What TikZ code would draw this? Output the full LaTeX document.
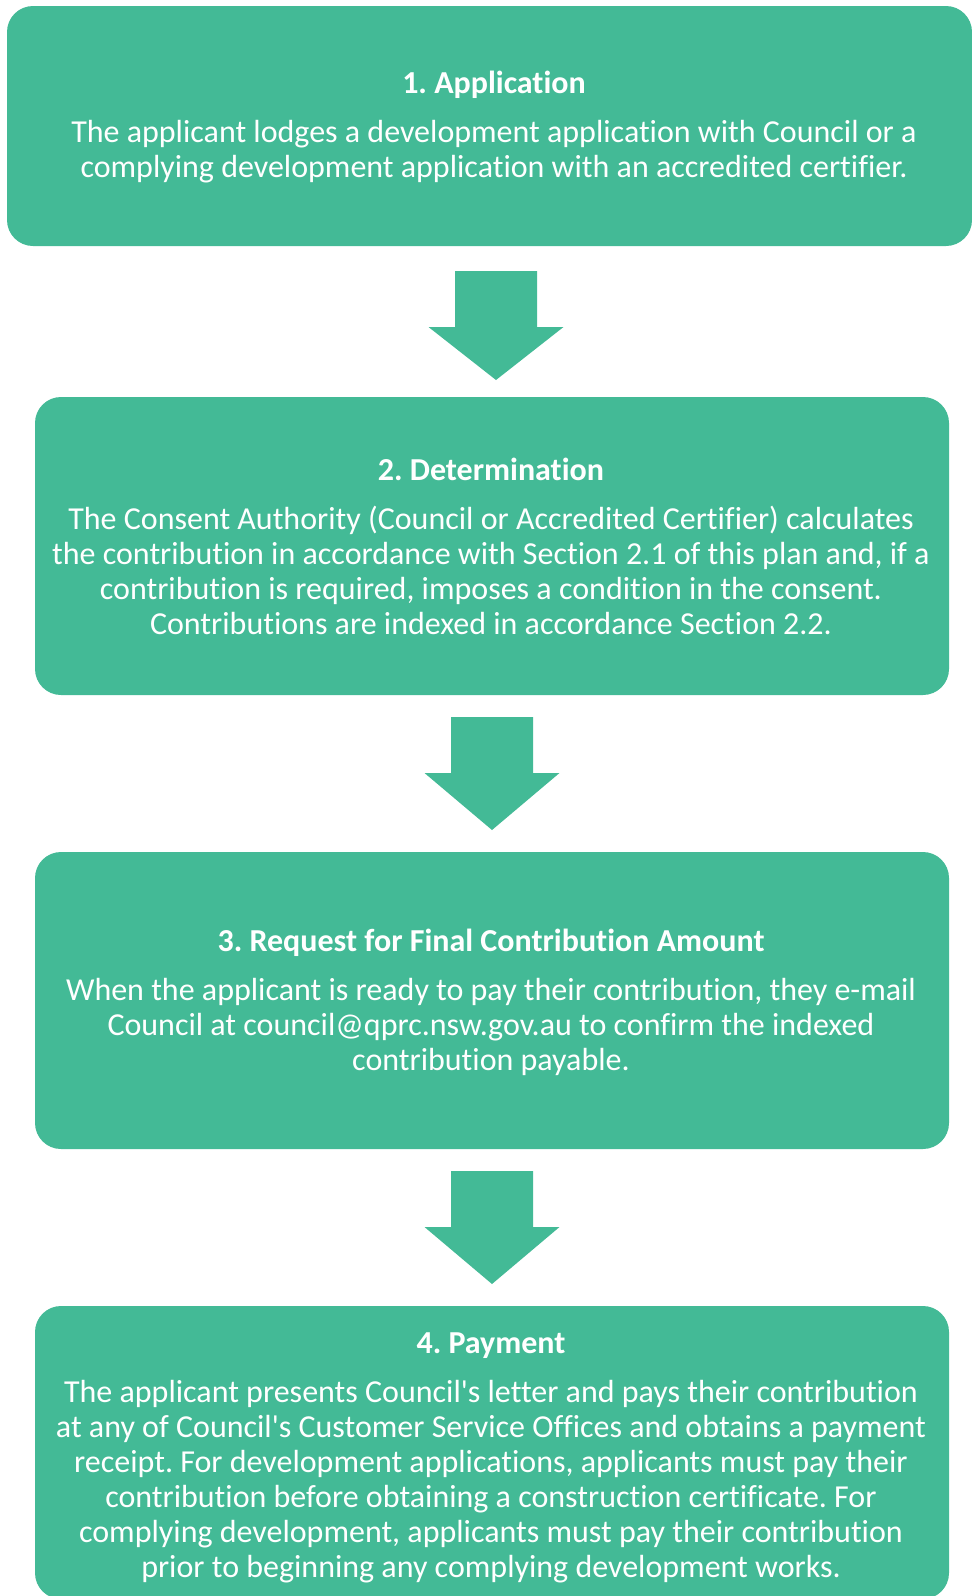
\documentclass[tikz,border=0pt]{standalone}
\usepackage{fontspec}
\setmainfont{Carlito}[Ligatures={NoCommon,TeXOff}]
\usetikzlibrary{calc}
\definecolor{flowgreen}{RGB}{67,186,150}
\tikzset{
  box/.style={fill=flowgreen, draw=none, rounded corners=26pt, inner sep=0pt, outer sep=0pt, rectangle},
  txt/.style={text=white, inner sep=0pt, anchor=base, font=\fontsize{32}{35}\selectfont},
  flow/.style={fill=flowgreen, draw=none}
}
\newcommand\boxtext[2]{\begin{tabular}[t]{@{}c@{}}\textbf{#1}\\[14pt]#2\end{tabular}}
\frenchspacing
\begin{document}
\begin{tikzpicture}[x=1pt,y=-1pt]
\useasboundingbox (0,0) rectangle (972,1596);
\clip (0,0) rectangle (972,1596);
\node[box, minimum width=965pt, minimum height=240pt] (b1) at (489.5,126) {};
\node[box, minimum width=914pt, minimum height=298pt] (b2) at (492,546) {};
\node[box, minimum width=914pt, minimum height=297pt] (b3) at (492,1000.5) {};
\node[box, minimum width=914pt, minimum height=293pt] (b4) at (492,1452.5) {};

\node[txt] (t1) at (494,93.5) {\boxtext{1. Application}{The applicant lodges a development application with Council or a\\complying development application with an accredited certifier.}};
\node[txt] (t2) at (491,480) {\boxtext{2. Determination}{The Consent Authority (Council or Accredited Certifier) calculates\\the contribution in accordance with Section 2.1 of this plan and, if a\\contribution is required, imposes a condition in the consent.\\Contributions are indexed in accordance Section 2.2.}};
\node[txt] (t3) at (491,951) {\boxtext{3. Request for Final Contribution Amount}{When the applicant is ready to pay their contribution, they e-mail\\Council at council@qprc.nsw.gov.au to confirm the indexed\\contribution payable.}};
\node[txt] (t4) at (491,1353) {\boxtext{4. Payment}{The applicant presents Council's letter and pays their contribution\\at any of Council's Customer Service Offices and obtains a payment\\receipt. For development applications, applicants must pay their\\contribution before obtaining a construction certificate. For\\complying development, applicants must pay their contribution\\prior to beginning any complying development works.}};

% block arrows between boxes
\coordinate (a1s) at ($(b1.south)+(6.5,25)$);
\coordinate (a1e) at ($(b2.north)+(4,-17)$);
\coordinate (a2s) at ($(b2.south)+(0,22)$);
\coordinate (a2e) at ($(b3.north)+(0,-22)$);
\coordinate (a3s) at ($(b3.south)+(0,22)$);
\coordinate (a3e) at ($(b4.north)+(0,-22)$);
\foreach \s/\e in {a1s/a1e,a2s/a2e,a3s/a3e}{
  \fill[flow] ($(\s)+(-41,0)$) -- ($(\s)+(41,0)$) -- ($(\s)+(41,56)$) -- ($(\s)+(67.5,56)$) -- (\e) -- ($(\s)+(-67.5,56)$) -- ($(\s)+(-41,56)$) -- cycle;
}
\end{tikzpicture}
\end{document}
